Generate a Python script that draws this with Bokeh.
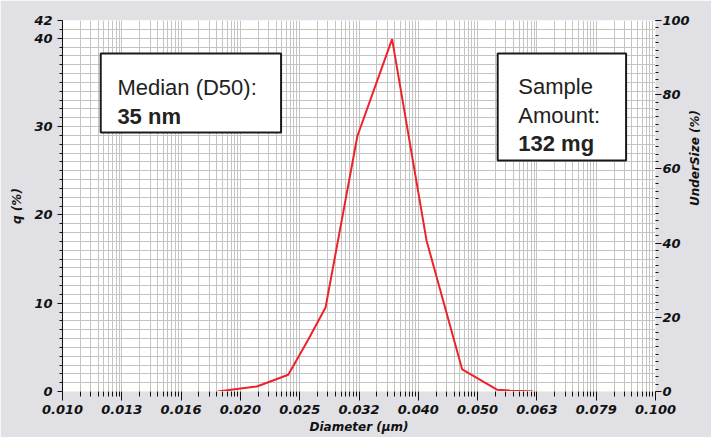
import math
from bokeh.plotting import figure
from bokeh.models import FixedTicker, LinearAxis, Range1d, Label, BoxAnnotation
from bokeh.embed import file_html
from bokeh.resources import INLINE

# ---- data ----
diameter_um = [0.01827, 0.02127, 0.02403, 0.02593, 0.02777, 0.03142,
               0.03596, 0.04110, 0.04721, 0.05403, 0.05679, 0.06215]
q_percent = [0.0, 0.57, 1.9, 5.8, 9.5, 28.9, 39.9, 17.1, 2.5, 0.2, 0.1, 0.0]

x_tick_labels = ["0.010", "0.013", "0.016", "0.020", "0.025", "0.032",
                 "0.040", "0.050", "0.063", "0.079", "0.100"]
y_left_ticks = [0, 10, 20, 30, 40, 42]
y_right_ticks = [0, 20, 40, 60, 80, 100]

median_lines = ["Median (D50):", "35 nm"]
sample_lines = ["Sample", "Amount:", "132 mg"]

# ---- tick positions ----
x_major = [10 ** (-2 + k / 10) for k in range(11)]
x_minor = [10 ** (-2 + (k + math.log10(m)) / 10) for k in range(10) for m in range(2, 10)]

BG = "#e0e0e5"
GRID = "#c4c4c4"
AXFONT = "DejaVu Sans"

p = figure(x_axis_type="log", x_range=Range1d(0.01, 0.1), y_range=Range1d(0, 42),
           width=711, height=437,
           min_border_left=62, min_border_right=44, min_border_top=20, min_border_bottom=46,
           output_backend="svg", toolbar_location=None,
           background_fill_color="white", border_fill_color=BG, outline_line_color=None)

p.xgrid.ticker = FixedTicker(ticks=x_major + x_minor)
p.ygrid.ticker = FixedTicker(ticks=list(range(43)))
p.xgrid.grid_line_color = GRID
p.ygrid.grid_line_color = GRID
p.xgrid.grid_line_width = 1
p.ygrid.grid_line_width = 1


def style_axis(ax):
    ax.major_label_text_font = AXFONT
    ax.major_label_text_font_style = "bold italic"
    ax.major_label_text_font_size = "13px"
    ax.major_label_text_color = "#111111"
    ax.axis_label_text_font = AXFONT
    ax.axis_label_text_font_style = "bold italic"
    ax.axis_label_text_font_size = "12px"
    ax.axis_label_text_color = "#111111"
    ax.major_tick_line_color = "#111111"
    ax.minor_tick_line_color = "#111111"
    ax.major_tick_in = 0
    ax.minor_tick_in = 0


xa = p.xaxis[0]
style_axis(xa)
xa.ticker = FixedTicker(ticks=x_major, minor_ticks=x_minor)
xa.major_label_overrides = {t: lab for t, lab in zip(x_major, x_tick_labels)}
xa.axis_label = "Diameter (µm)"
xa.axis_line_color = "#f3efe0"
xa.major_tick_out = 9
xa.minor_tick_out = 5
xa.major_label_standoff = 4
xa.axis_label_standoff = 3

ya = p.yaxis[0]
style_axis(ya)
ya.ticker = FixedTicker(ticks=y_left_ticks, minor_ticks=list(range(43)))
ya.axis_label = "q (%)"
ya.axis_line_color = "#111111"
ya.major_tick_out = 5
ya.minor_tick_out = 3
ya.major_label_standoff = 5
ya.axis_label_standoff = 7

p.extra_y_ranges = {"under": Range1d(0, 100)}
ra = LinearAxis(y_range_name="under",
                ticker=FixedTicker(ticks=y_right_ticks, minor_ticks=list(range(0, 101, 2))))
style_axis(ra)
ra.axis_line_color = "#f3efe0"
ra.major_tick_out = 6
ra.minor_tick_out = 3
ra.major_label_standoff = 1
ra.axis_label = "UnderSize (%)"
ra.axis_label_standoff = 2
if "axis_label_orientation" in ra.properties():
    ra.axis_label_orientation = math.pi / 2
p.add_layout(ra, "right")

p.line(diameter_um, q_percent, line_color="#ee2229", line_width=2)

# ---- annotation placement helpers (reference pixel -> data) ----
FL, FT, FW, FH = 62, 20, 605, 371


def dx(px):
    return 10 ** (-2 + (px - FL) / FW)


def dy(py):
    return 42 * (FT + FH - py) / FH


def box(l, t, r, b):
    p.add_layout(BoxAnnotation(left=dx(l), right=dx(r), top=dy(t), bottom=dy(b),
                               fill_color="white", fill_alpha=1.0,
                               line_color="#1a1a1a", line_alpha=1.0, line_width=2,
                               level="annotation"))


def txt(px, py, s, bold=False):
    p.add_layout(Label(x=dx(px), y=dy(py), text=s, text_font="Liberation Sans",
                       text_font_size="22px", text_color="#222222",
                       text_font_style="bold" if bold else "normal",
                       text_align="left", text_baseline="alphabetic"))


box(101, 53, 285, 132)
txt(118, 86.7, median_lines[0])
txt(118, 116, median_lines[1], bold=True)

box(506, 53, 637, 160)
txt(527, 86, sample_lines[0])
txt(527, 115, sample_lines[1])
txt(527, 143.3, sample_lines[2], bold=True)

open("out.html", "w").write(file_html(p, INLINE))
